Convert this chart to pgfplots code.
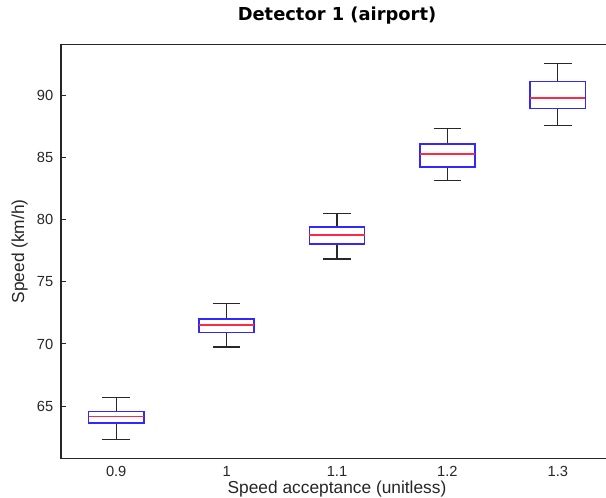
\documentclass[border=0pt]{standalone}
\usepackage{pgfplots}
\pgfplotsset{compat=1.18}
\usepackage{fontspec}
\setmainfont{Liberation Sans}
\newfontfamily\titlefont{DejaVu Sans}

\definecolor{boxblue}{RGB}{50,40,255}
\definecolor{medred}{RGB}{255,40,70}
\definecolor{whisk}{RGB}{40,40,40}

% one box: position, lower whisker, lower quartile, median, upper quartile, upper whisker
\newcommand{\speedbox}[6]{%
  \addplot[draw=whisk, line width=1pt] coordinates {(#1,#2) (#1,#3)};
  \addplot[draw=whisk, line width=1pt] coordinates {(#1,#5) (#1,#6)};
  \addplot[draw=whisk, line width=1pt] coordinates {(#1-0.125,#2) (#1+0.125,#2)};
  \addplot[draw=whisk, line width=1pt] coordinates {(#1-0.125,#6) (#1+0.125,#6)};
  \addplot[draw=boxblue, line width=1.1pt] coordinates
    {(#1-0.25,#3) (#1+0.25,#3) (#1+0.25,#5) (#1-0.25,#5)} --cycle;
  \addplot[draw=medred, line width=1pt] coordinates {(#1-0.25,#4) (#1+0.25,#4)};
}

\begin{document}
\begin{tikzpicture}
\begin{axis}[
  at={(0,0)}, anchor=south west,
  scale only axis,
  width=414pt, height=310.3pt,
  xmin=0.5, xmax=5.5,
  ymin=60.8, ymax=94.1,
  xtick={1,2,3,4,5},
  xticklabels={0.9,1,1.1,1.2,1.3},
  ytick={65,70,75,80,85,90},
  axis line style={line width=1pt, black!85},
  tick align=inside,
  ytick pos=both,
  xtick pos=bottom,
  major tick length=3.75pt,
  x tick style={draw=none},
  y tick style={line width=0.8pt, black!85},
  /pgf/number format/assume math mode=true,
  tick label style={font=\fontsize{11}{13}\selectfont, text=black!85},
  xticklabel style={anchor=base, yshift=-14pt, inner sep=0pt},
  yticklabel style={xshift=-2.3pt},
  title={\titlefont\bfseries Detector 1 (airport)},
  title style={font=\fontsize{13.4}{16}\selectfont, at={(0.5,1)}, anchor=base, yshift=12pt},
  xlabel={Speed acceptance (unitless)},
  xlabel style={font=\fontsize{13}{15}\selectfont, text=black!85, inner sep=0pt, at={(0.5,0)}, anchor=base, yshift=-26.5pt},
  ylabel={Speed (km/h)},
  ylabel style={font=\fontsize{13}{15}\selectfont, text=black!85, inner sep=0pt, at={(axis description cs:-0.075,0.5)}, anchor=center},
]
% speed acceptance 0.9
\speedbox{1}{62.30}{63.64}{64.15}{64.55}{65.68}
% speed acceptance 1.0
\speedbox{2}{69.76}{70.91}{71.53}{72.01}{73.24}
% speed acceptance 1.1
\speedbox{3}{76.84}{78.05}{78.77}{79.41}{80.51}
% speed acceptance 1.2
\speedbox{4}{83.17}{84.26}{85.29}{86.11}{87.35}
% speed acceptance 1.3
\speedbox{5}{87.56}{88.96}{89.79}{91.13}{92.55}
\end{axis}
\pgfresetboundingbox
\useasboundingbox (-45.75pt,-29.8pt) rectangle (408.75pt,343.7pt);
\end{tikzpicture}
\end{document}
